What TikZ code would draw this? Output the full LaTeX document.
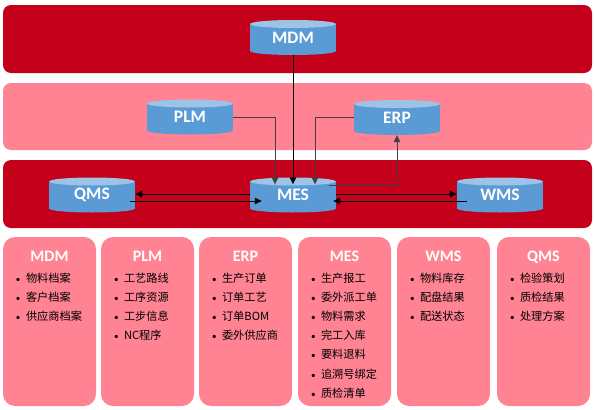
\documentclass[tikz,border=0pt]{standalone}
\usepackage{fontspec}
\setmainfont{Carlito}
\newfontfamily\cjk{Noto Sans CJK SC}
\usetikzlibrary{arrows.meta}
\definecolor{darkred}{HTML}{C4001B}
\definecolor{pinkf}{HTML}{FF8392}
\definecolor{cylblue}{HTML}{5B9BD5}
\definecolor{cyltop}{HTML}{9DC3E6}
\definecolor{linegray}{HTML}{404040}
\newcommand{\bitem}[1]{\makebox[10pt][l]{\rmfamily\fontsize{9}{9}\selectfont\textbullet}#1}
\begin{document}
\begin{tikzpicture}[x=1pt,y=-1pt,
  cyl/.style={minimum width=86pt, minimum height=35pt, inner sep=0pt, text=white,
    font=\bfseries\fontsize{17.5}{17.5}\selectfont,
    path picture={
      \fill[cylblue] ([yshift=-4pt]path picture bounding box.north west) rectangle ([yshift=4pt]path picture bounding box.south east);
      \fill[cylblue] ([yshift=4pt]path picture bounding box.south) ellipse [x radius=43pt, y radius=4pt];
      \fill[cyltop] ([yshift=-4pt]path picture bounding box.north) ellipse [x radius=43pt, y radius=4pt];
    }},
  infobox/.style={fill=pinkf, rounded corners=12pt, minimum width=93pt, minimum height=169pt, inner sep=0pt},
  title/.style={text=white, font=\bfseries\fontsize{16}{16}\selectfont, inner sep=0pt},
  item/.style={anchor=west, font=\cjk\fontsize{11.2}{11.2}\selectfont, inner sep=0pt, text=black},
  arr/.style={-{Triangle[length=7pt,width=6.5pt]}},
  conn/.style={arr, draw=linegray, line width=0.8pt},
  blk/.style={arr, draw=black, line width=1pt}
]
\useasboundingbox (0,0) rectangle (595,410);

% bands
\fill[darkred, rounded corners=8pt] (3,5) rectangle (592,73);
\fill[pinkf, rounded corners=8pt] (3,83) rectangle (592,150);
\fill[darkred, rounded corners=8pt] (3,160) rectangle (592,228);

% cylinders
\node[cyl] (mdm) at (293,37.5) {MDM};
\node[cyl] (plm) at (190,117) {PLM};
\node[cyl] (erp) at (397,117.5) {ERP};
\node[cyl] (qms) at (92,195) {QMS};
\node[cyl] (mes) at (293,195) {MES};
\node[cyl] (wms) at (500,195) {WMS};

% connectors
\draw[blk] (mdm.south) -- ([yshift=-7pt]mes.north);
\draw[conn] (plm.east) -| ([xshift=-18pt,yshift=-7pt]mes.north);
\draw[conn] (erp.west) -| ([xshift=22pt,yshift=-7pt]mes.north);
\draw[conn] ([xshift=-7pt,yshift=-8pt]mes.north east) -| (erp.south);
\draw[blk] ([yshift=1pt]mes.west) -- ([yshift=1pt]qms.east);
\draw[blk] ([xshift=-5pt,yshift=-6pt]qms.east) -- ([xshift=12pt,yshift=-6pt]mes.west);
\draw[blk] ([yshift=1pt]mes.east) -- ([yshift=1pt]wms.west);
\draw[blk] ([xshift=10pt,yshift=-6pt]wms.west) -- ([xshift=-3pt,yshift=-6pt]mes.east);

% bottom boxes
\node[infobox] (bmdm) at (49.5,321.5) {};
\node[infobox] (bplm) at (147.5,321.5) {};
\node[infobox] (berp) at (245.5,321.5) {};
\node[infobox] (bmes) at (344.5,321.5) {};
\node[infobox] (bwms) at (443.5,321.5) {};
\node[infobox] (bqms) at (543.5,321.5) {};

\node[title] (tmdm) at ([yshift=-20pt]bmdm.north) {MDM};
\node[title] (tplm) at ([yshift=-20pt]bplm.north) {PLM};
\node[title] (terp) at ([yshift=-20pt]berp.north) {ERP};
\node[title] (tmes) at ([yshift=-20pt]bmes.north) {MES};
\node[title] (twms) at ([yshift=-20pt]bwms.north) {WMS};
\node[title] (tqms) at ([yshift=-20pt]bqms.north) {QMS};

\foreach \t [count=\k from 0] in {物料档案,客户档案,供应商档案}
  \node[item] (imdm\k) at ([xshift=13pt,yshift={-41pt-19.2pt*\k}]bmdm.north west) {\bitem{\t}};
\foreach \t [count=\k from 0] in {工艺路线,工序资源,工步信息,NC程序}
  \node[item] (iplm\k) at ([xshift=13pt,yshift={-41pt-19.2pt*\k}]bplm.north west) {\bitem{\t}};
\foreach \t [count=\k from 0] in {生产订单,订单工艺,订单BOM,委外供应商}
  \node[item] (ierp\k) at ([xshift=13pt,yshift={-41pt-19.2pt*\k}]berp.north west) {\bitem{\t}};
\foreach \t [count=\k from 0] in {生产报工,委外派工单,物料需求,完工入库,要料退料,追溯号绑定,质检清单}
  \node[item] (imes\k) at ([xshift=13pt,yshift={-41pt-19.2pt*\k}]bmes.north west) {\bitem{\t}};
\foreach \t [count=\k from 0] in {物料库存,配盘结果,配送状态}
  \node[item] (iwms\k) at ([xshift=13pt,yshift={-41pt-19.2pt*\k}]bwms.north west) {\bitem{\t}};
\foreach \t [count=\k from 0] in {检验策划,质检结果,处理方案}
  \node[item] (iqms\k) at ([xshift=13pt,yshift={-41pt-19.2pt*\k}]bqms.north west) {\bitem{\t}};
\end{tikzpicture}
\end{document}
